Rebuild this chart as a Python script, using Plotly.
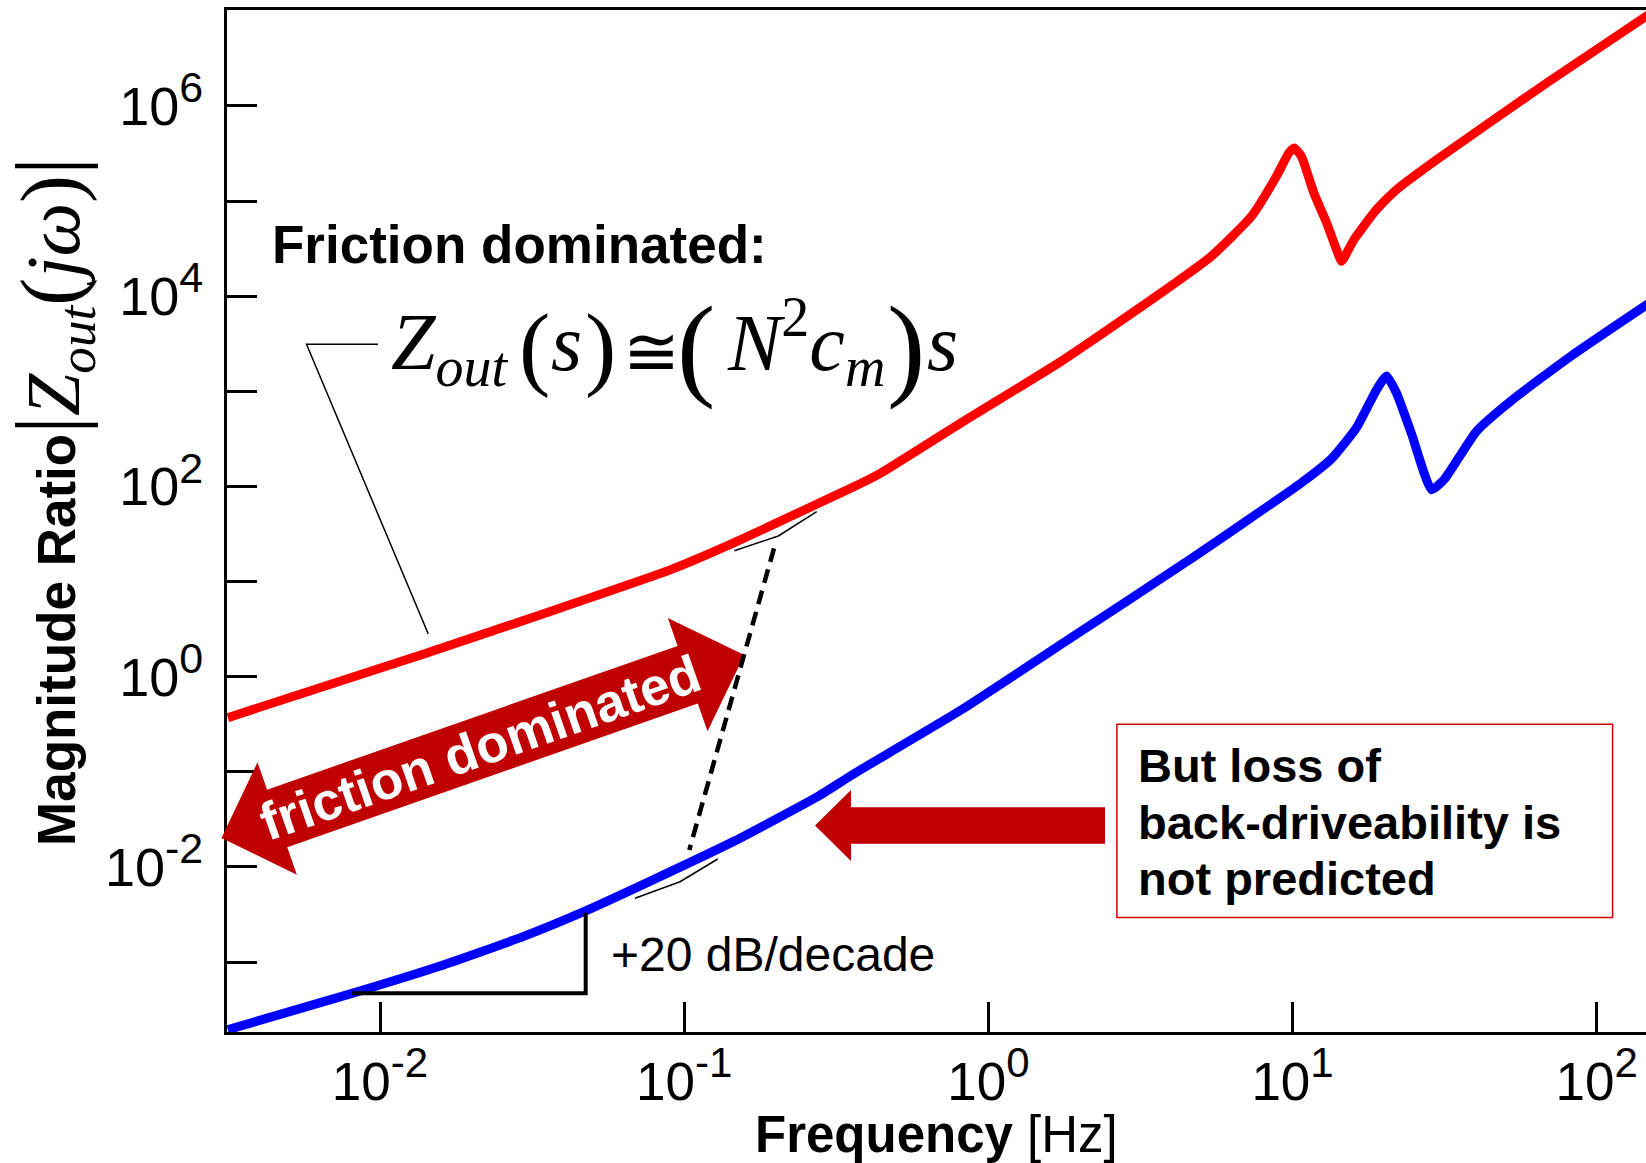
import math
import plotly.graph_objects as go

# ---------------- data ----------------
red_freq = [0.00316, 0.01426, 0.0904, 0.1455, 0.2754, 0.3802, 0.4426, 0.8128, 1.734, 3.565,
            5.408, 7.328, 8.851, 9.727, 10.12, 10.69, 11.75, 12.94, 14.22, 14.49,
            15.92, 18.88, 21.98, 29.79, 68.55, 177.8]
red_mag = [0.371, 1.774, 13.34, 25.47, 66.07, 107.2, 138.0, 465.6, 2065, 9977,
           26300, 69180, 182400, 321400, 362200, 295800, 121900, 59020, 26300, 23280,
           39360, 81470, 132100, 272900, 1.750e6, 1.349e7]

blue_freq = [0.00316, 0.00830, 0.01567, 0.02965, 0.04699, 0.07709, 0.1455, 0.2754, 0.3436, 0.3802,
             0.8128, 1.871, 4.467, 10.69, 13.43, 16.22, 18.88, 20.37, 21.98, 24.66,
             28.64, 31.55, 40.27, 52.60, 82.99, 177.8]
blue_mag = [1.941e-4, 4.786e-4, 9.000e-4, 1.858e-3, 3.404e-3, 7.047e-3, 0.01854, 0.05508, 0.08600, 0.1050,
            0.4457, 2.564, 16.03, 109.1, 195.4, 414.0, 1038, 1449, 955.0, 350.8,
            92.26, 118.9, 381.1, 807.2, 2388, 12390]

x_tick_vals = [0.01, 0.1, 1, 10, 100]
x_tick_exp = ["-2", "-1", "0", "1", "2"]
y_tick_vals = [1e-3, 1e-2, 1e-1, 1e0, 1e1, 1e2, 1e3, 1e4, 1e5, 1e6, 1e7]
y_tick_exp = ["", "-2", "", "0", "", "2", "", "4", "", "6", ""]

# ---------------- page geometry ----------------
W, H = 1646, 1163
L, R, T, B = 227, 1646, 10, 1032
SANS = "Liberation Sans, Arial, Helvetica, sans-serif"
SERIF = "Liberation Serif, Times New Roman, serif"
DARKRED = "#C00000"


def px(x):
    return (x - L) / (R - L)


def py(y):
    return (B - y) / (B - T)


def path(points, close=False):
    s = "M " + " L ".join(f"{px(x):.5f},{py(y):.5f}" for x, y in points)
    return s + (" Z" if close else "")


def power_label(e, sup_px):
    if e == "":
        return ""
    return f'10<sup><span style="font-size:{sup_px}px">{e}</span></sup>'


fig = go.Figure()
fig.add_trace(go.Scatter(x=red_freq, y=red_mag, mode="lines",
                         line=dict(color="#FF0000", width=9, shape="spline", smoothing=0.5),
                         hoverinfo="skip"))
fig.add_trace(go.Scatter(x=blue_freq, y=blue_mag, mode="lines",
                         line=dict(color="#0000FF", width=9, shape="spline", smoothing=0.5),
                         hoverinfo="skip"))

shapes = []
# double headed "friction dominated" arrow
P0 = (221.5, 838.0)
ux, uy = 0.9437, -0.3305
nx, ny = 0.3305, 0.9437
uv = [(0, 0), (59, -59.5), (59, -30.5), (494, -30.5), (494, -60), (554, 0),
      (494, 60), (494, 30.5), (59, 30.5), (59, 59.5)]
arrow_pts = [(P0[0] + ux * a + nx * b, P0[1] + uy * a + ny * b) for a, b in uv]
shapes.append(dict(type="path", xref="paper", yref="paper", path=path(arrow_pts, True),
                   fillcolor=DARKRED, line=dict(width=0)))
# left pointing arrow
left_arrow = [(815, 825.5), (851, 790), (851, 807.2), (1105, 807.2), (1105, 843.8),
              (851, 843.8), (851, 861)]
shapes.append(dict(type="path", xref="paper", yref="paper", path=path(left_arrow, True),
                   fillcolor=DARKRED, line=dict(width=0)))
# dashed transition line
shapes.append(dict(type="line", xref="paper", yref="paper",
                   x0=px(774), y0=py(548.3), x1=px(689.3), y1=py(850),
                   line=dict(color="black", width=4.5, dash="14px,8px")))
# tangent marks
shapes.append(dict(type="path", xref="paper", yref="paper",
                   path=path([(734.3, 550.7), (778.3, 536), (816.7, 511.7)]),
                   line=dict(color="black", width=1.5)))
shapes.append(dict(type="path", xref="paper", yref="paper",
                   path=path([(635, 898.3), (680, 881.7), (717.7, 859)]),
                   line=dict(color="black", width=1.5)))
# leader line to formula
shapes.append(dict(type="path", xref="paper", yref="paper",
                   path=path([(378, 344.3), (306.5, 344.3), (428.3, 634)]),
                   line=dict(color="black", width=1.5)))
# slope triangle
shapes.append(dict(type="path", xref="paper", yref="paper",
                   path=path([(352.2, 993.3), (585.7, 993.3), (585.7, 912.7)]),
                   line=dict(color="black", width=4)))
# note box
shapes.append(dict(type="rect", xref="paper", yref="paper",
                   x0=px(1116.9), y0=py(724.3), x1=px(1612.6), y1=py(917.4),
                   line=dict(color="#CC0000", width=1.5), fillcolor="rgba(0,0,0,0)"))

ann = []


def text(x, y, s, size, family=SANS, color="black", xanchor="left", yanchor="middle", angle=0):
    ann.append(dict(x=px(x), y=py(y), xref="paper", yref="paper", text=s, showarrow=False,
                    xanchor=xanchor, yanchor=yanchor, textangle=angle, borderpad=0, borderwidth=0,
                    font=dict(family=family, size=size, color=color)))


text(272, 244.4, "<b>Friction dominated:</b>", 53)
text(611, 954.7, "+20 dB/decade", 48)
text(1137.6, 765.4, "<b>But loss of</b>", 47)
text(1137.6, 822.0, "<b>back-driveability is</b>", 47)
text(1137.6, 878.7, "<b>not predicted</b>", 47)

mid = (P0[0] + ux * 274, P0[1] + uy * 274)
angle = -math.degrees(math.atan2(-uy, ux))
text(mid[0], mid[1], "<b>friction dominated</b>", 53, color="white", xanchor="center", angle=angle)

# formula  Z_out(s) ≅ (N^2 c_m) s
text(391, 348, "<i>Z</i><sub><i>out</i></sub>", 80, family=SERIF)
text(519, 346, "(", 94, family=SERIF)
text(551, 343, "<i>s</i>", 80, family=SERIF)
text(585, 346, ")", 94, family=SERIF)
text(623, 352, "≅", 68, family=SERIF)
text(677, 346, "(", 115, family=SERIF)
text(727, 342, "<i>N</i><sup>2</sup><i>c</i><sub><i>m</i></sub>", 80, family=SERIF)
text(887, 346, ")", 115, family=SERIF)
text(927, 343, "<i>s</i>", 80, family=SERIF)

# axis titles
text(936.5, 1134.5, "<b>Frequency</b> [Hz]", 51, xanchor="center")
text(56, 640, "<b>Magnitude Ratio</b>", 53, xanchor="center", angle=-90)
text(53, 296,
     '<span style="font-size:90px">|</span><i>Z</i><sub><i>out</i></sub>'
     '<span style="font-size:84px">(</span><i>jω</i><span style="font-size:84px">)</span>'
     '<span style="font-size:90px">|</span>',
     76, family=SERIF, xanchor="center", angle=-90)

fig.update_layout(
    width=W, height=H,
    margin=dict(l=L, r=W - R, t=T, b=H - B, pad=0),
    paper_bgcolor="white", plot_bgcolor="white",
    showlegend=False,
    font=dict(family=SANS, size=48, color="black"),
    shapes=shapes, annotations=ann,
)
fig.update_xaxes(type="log", range=[-2.503, 2.162], tickvals=x_tick_vals,
                 ticktext=[power_label(e, 42) for e in x_tick_exp],
                 ticks="inside", ticklen=30, tickwidth=2.5, tickcolor="black",
                 showline=True, linewidth=3, linecolor="black", mirror=True,
                 showgrid=False, zeroline=False, tickfont=dict(size=53, family=SANS),
                 ticklabelstandoff=1)
fig.update_yaxes(type="log", range=[-3.736, 7.009], tickvals=y_tick_vals,
                 ticktext=[power_label(e, 43) for e in y_tick_exp],
                 ticks="inside", ticklen=30, tickwidth=3, tickcolor="black",
                 showline=True, linewidth=3, linecolor="black", mirror=False,
                 showgrid=False, zeroline=False, tickfont=dict(size=54, family=SANS),
                 ticklabelstandoff=10)

fig.write_html("out.html", config={"displayModeBar": False},
               post_script="document.body.style.margin='0';document.body.style.overflow='hidden';")
